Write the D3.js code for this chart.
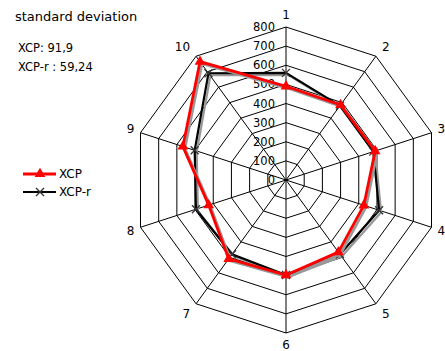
<!DOCTYPE html>
<html>
<head>
<meta charset="utf-8">
<script src="https://d3js.org/d3.v7.min.js"></script>
<style>
  body { margin: 0; background: #fff; }
  svg { display: block; font-family: "DejaVu Sans", Verdana, sans-serif; }
</style>
</head>
<body>
<div id="chart"></div>
<script>
const width = 445;
const height = 351;

// data
const categories = ["1", "2", "3", "4", "5", "6", "7", "8", "9", "10"];
const xcp = [490, 485, 490, 428, 466, 497, 510, 425, 567, 765];
const xcpR = [560, 480, 480, 512, 480, 497, 480, 495, 502, 690];
const ticks = [0, 100, 200, 300, 400, 500, 600, 700, 800];
const seriesNames = ["XCP", "XCP-r"];
const stats = ["XCP: 91,9", "XCP-r : 59,24"];

const cx = 286, cy = 180, R = 153;

const svg = d3.select("#chart")
    .append("svg")
    .attr("width", width)
    .attr("height", height);

const r = d3.scaleLinear().domain([0, 800]).range([0, R]);
const angle = d3.scalePoint().domain(categories).range([0, 2 * Math.PI * 9 / 10]);

function pt(cat, v) {
    const a = angle(cat);
    return [cx + r(v) * Math.sin(a), cy - r(v) * Math.cos(a)];
}

// grid rings
const grid = svg.append("g");
ticks.slice(1).forEach(t => {
    grid.append("polygon")
        .attr("points", categories.map(c => pt(c, t).join(",")).join(" "))
        .attr("fill", "none")
        .attr("stroke", "#000")
        .attr("stroke-width", 1);
});
// spokes
categories.forEach(c => {
    const p = pt(c, 800);
    grid.append("line")
        .attr("x1", cx).attr("y1", cy)
        .attr("x2", p[0]).attr("y2", p[1])
        .attr("stroke", "#000")
        .attr("stroke-width", 1);
});

// tick labels along axis 1
svg.append("g").selectAll("text")
    .data(ticks)
    .enter()
    .append("text")
    .attr("x", cx - 11)
    .attr("y", d => cy - r(d))
    .attr("dy", "0.35em")
    .attr("text-anchor", "end")
    .attr("font-size", 11.5)
    .attr("fill", "#000")
    .text(d => d);

// category labels
svg.append("g").selectAll("text")
    .data(categories)
    .enter()
    .append("text")
    .attr("x", d => {
        const a = angle(d);
        const s = Math.sin(a);
        return pt(d, 800)[0] + (Math.abs(s) < 0.1 ? 0 : (s > 0 ? 6 : -6));
    })
    .attr("y", d => {
        const a = angle(d);
        const c = Math.cos(a);
        return pt(d, 800)[1] - c * 12;
    })
    .attr("dy", "0.35em")
    .attr("text-anchor", d => {
        const s = Math.sin(angle(d));
        return Math.abs(s) < 0.1 ? "middle" : (s > 0 ? "start" : "end");
    })
    .attr("font-size", 12)
    .attr("fill", "#000")
    .text(d => d);

const line = d3.line().curve(d3.curveLinearClosed);

function drawSeries(values, color, w, marker) {
    const pts = categories.map((c, i) => pt(c, values[i]));
    // shadow
    svg.append("path")
        .attr("d", line(pts.map(p => [p[0] + 2, p[1] + 2])))
        .attr("fill", "none")
        .attr("stroke", "#999")
        .attr("stroke-width", w);
    svg.append("path")
        .attr("d", line(pts))
        .attr("fill", "none")
        .attr("stroke", color)
        .attr("stroke-width", w)
        .attr("stroke-linejoin", "miter");
    pts.forEach(p => marker(svg, p[0], p[1]));
}

function triangle(g, x, y) {
    g.append("path")
        .attr("d", d3.symbol().type(d3.symbolTriangle).size(50)())
        .attr("transform", `translate(${x},${y})`)
        .attr("fill", "#ff0000");
}
function cross(g, x, y) {
    g.append("path")
        .attr("d", `M${x - 4},${y - 4}L${x + 4},${y + 4}M${x - 4},${y + 4}L${x + 4},${y - 4}`)
        .attr("stroke", "#333")
        .attr("stroke-width", 1.3);
}

drawSeries(xcpR, "#000", 2.2, cross);
drawSeries(xcp, "#ff0000", 2.8, triangle);

// title and stats
svg.append("text")
    .attr("x", 15).attr("y", 21)
    .attr("font-size", 13)
    .text("standard deviation");
svg.selectAll(".stat")
    .data(stats)
    .enter()
    .append("text")
    .attr("x", 18)
    .attr("y", (d, i) => 52 + i * 19)
    .attr("font-size", 11.5)
    .text(d => d);

// legend
const legend = svg.append("g");
const legendColors = ["#ff0000", "#000"];
const legendMarkers = [triangle, cross];
seriesNames.forEach((name, i) => {
    const y = 174 + i * 18;
    legend.append("line")
        .attr("x1", 23).attr("x2", 56)
        .attr("y1", y).attr("y2", y)
        .attr("stroke", legendColors[i])
        .attr("stroke-width", i === 0 ? 2.8 : 2.2);
    legendMarkers[i](legend, 40, y);
    legend.append("text")
        .attr("x", 59).attr("y", y)
        .attr("dy", "0.35em")
        .attr("font-size", 12)
        .text(name);
});
</script>
</body>
</html>
